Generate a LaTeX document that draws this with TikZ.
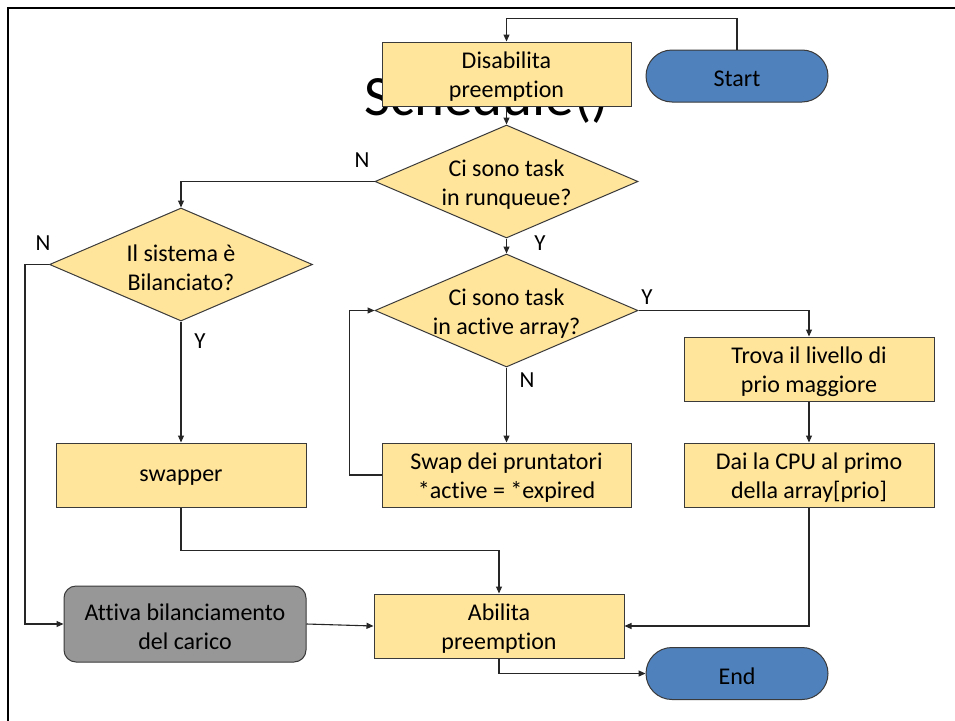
\documentclass[tikz,border=0pt]{standalone}
\usepackage{fontspec}
\setmainfont{Carlito}[Ligatures={NoCommon}]
\usetikzlibrary{shapes.geometric,arrows.meta}
\definecolor{boxfill}{HTML}{FFE49C}
\definecolor{termfill}{HTML}{4F81BD}
\definecolor{grayfill}{HTML}{979797}
\definecolor{edge}{HTML}{3A3A3A}
\tikzset{
  base/.style={draw=edge, line width=1pt, inner sep=0pt},
  dtext/.style={align=center, font=\fontsize{24}{29}\selectfont, text=black, yshift=-3pt},
  txt/.style={label={[dtext]center:#1}},
  procbox/.style={base, rectangle, fill=boxfill, minimum width=250pt, minimum height=64pt},
  dia/.style={base, diamond, fill=boxfill, minimum width=263pt, minimum height=113pt},
  term/.style={base, rectangle, rounded corners=26pt, fill=termfill, minimum width=182pt, minimum height=52pt},
  grayrnd/.style={base, rectangle, rounded corners=12pt, fill=grayfill, minimum width=242pt, minimum height=76pt},
  arr/.style={draw=black!85, line width=1.1pt, -{Triangle[length=7pt,width=6pt]}},
  lbl/.style={font=\fontsize{23}{26}\selectfont, inner sep=0pt}
}
\begin{document}
\begin{tikzpicture}[x=1pt,y=-1pt]
\useasboundingbox (0,0) rectangle (955,720);
\fill[white] (0,0) rectangle (955,720);
\draw[line width=2.7pt] (8,721) -- (8,8) -- (956,8);
\node[font=\fontsize{57}{57}\selectfont, anchor=base, inner sep=0pt] (title) at (486.5,115) {Schedule()};

\node[procbox, minimum width=249pt, txt={Disabilita\\preemption}] (dis) at (506.5,74) {};
\node[term, txt={Start}] (start) at (737,76) {};
\node[dia, txt={Ci sono task\\in runqueue?}] (d1) at (506.5,181.5) {};
\node[dia, txt={Il sistema è\\Bilanciato?}] (d2) at (181,264.5) {};
\node[dia, txt={Ci sono task\\in active array?}] (d3) at (506.5,310.5) {};
\node[procbox, txt={Trova il livello di\\prio maggiore}] (trova) at (809,369) {};
\node[procbox, txt={Dai la CPU al primo\\della array[prio]}] (dai) at (809,475) {};
\node[procbox, minimum width=249pt, txt={Swap dei pruntatori\\*active = *expired}] (swap) at (506.5,475) {};
\node[procbox, txt={swapper}] (sw) at (181,475) {};
\node[grayrnd, txt={Attiva bilanciamento\\del carico}] (att) at (185,624) {};
\node[procbox, txt={Abilita\\preemption}] (ab) at (499,626) {};
\node[term, txt={End}] (end) at (737,673.5) {};

\draw[arr] (start.north) -- ++(0,-31) -| (dis.north);
\draw[arr] (dis.south) -- (d1.north);
\draw[arr] (d1.west) -| (d2.north);
\draw[arr] (d1.south) -- (d3.north);
\draw[arr] (d2.west) -- ++(-24,0) |- (att.west);
\draw[arr] (d2.south) -- (sw.north);
\draw[arr] (sw.south) -- ++(0,43) -| (ab.north);
\draw[arr] (att.east) -- (ab.west);
\draw[arr] (d3.east) -| (trova.north);
\draw[arr] (trova.south) -- (dai.north);
\draw[arr] (dai.south) |- (ab.east);
\draw[arr] (d3.south) -- (swap.north);
\draw[arr] (swap.west) -- ++(-32,0) |- (d3.west);
\draw[arr] (ab.south) |- (end.west);

\node[lbl] (n1) at (362,160) {N};
\node[lbl] (n2) at (43,243) {N};
\node[lbl] (y1) at (200,341) {Y};
\node[lbl] (y2) at (540,243) {Y};
\node[lbl] (y3) at (647,297) {Y};
\node[lbl] (n3) at (527,380) {N};
\end{tikzpicture}
\end{document}
